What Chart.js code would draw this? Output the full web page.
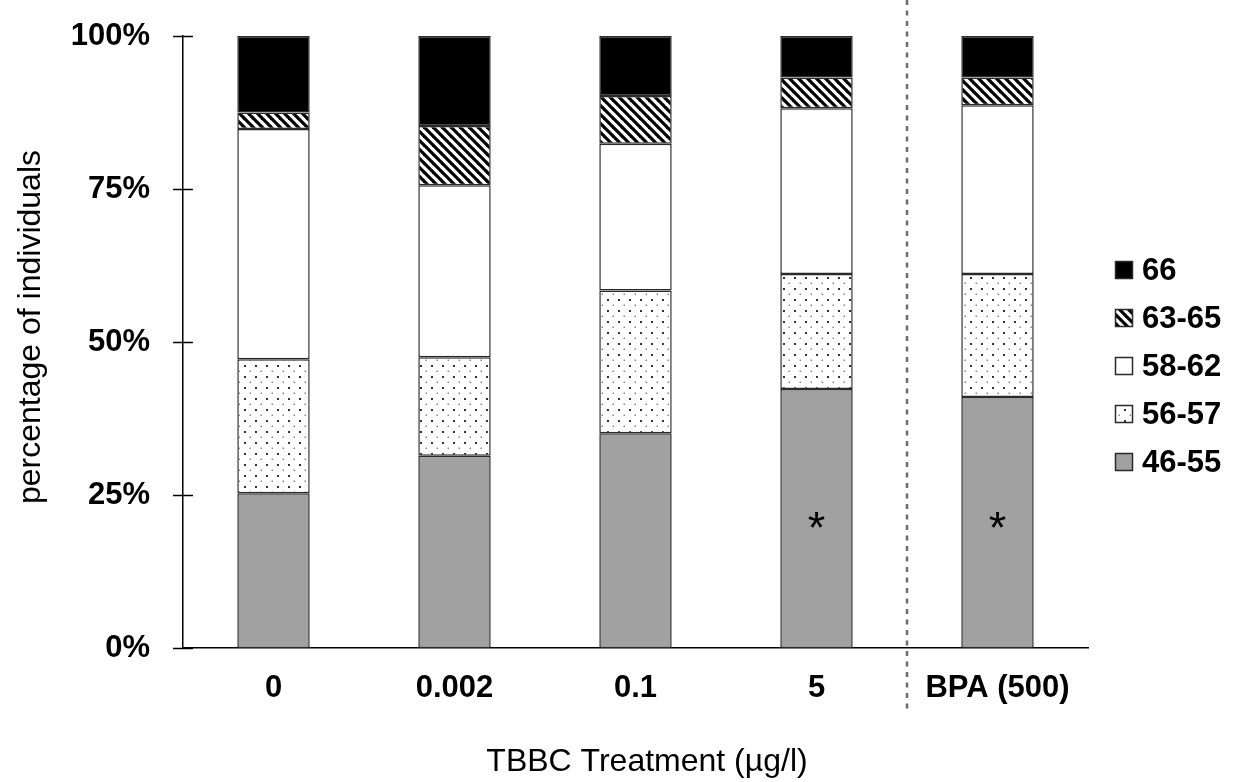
<!DOCTYPE html>
<html>
<head>
<meta charset="utf-8">
<script src="https://cdn.jsdelivr.net/npm/chart.js@4"></script>
<style>
  html, body { margin: 0; padding: 0; background: #fff; }
  #wrap { width: 1235px; height: 782px; position: relative; }
</style>
</head>
<body>
<div id="wrap"><canvas id="lengthChart"></canvas></div>
<script>
// treatment groups on the x axis
const categories = ['0', '0.002', '0.1', '5', 'BPA (500)'];
const yTicks = [0, 25, 50, 75, 100];

// share of individuals per size class (%), bottom to top
const class46to55 = [25.3, 31.4, 35.1, 42.3, 41.0];
const class56to57 = [21.9, 16.1, 23.3, 18.8, 20.1];
const class58to62 = [37.6, 28.1, 24.0, 27.1, 27.6];
const class63to65 = [2.7, 9.7, 7.8, 5.0, 4.5];
const class66 = [12.5, 14.7, 9.8, 6.8, 6.8];

// significance marks
const starCategories = ['5', 'BPA (500)'];
const starLevel = 20;

const FONT = '"Liberation Sans", Arial, Helvetica, sans-serif';

function makeHatch() {
    const c = document.createElement('canvas');
    c.width = 9; c.height = 9;
    const g = c.getContext('2d');
    g.fillStyle = '#fff';
    g.fillRect(0, 0, 9, 9);
    g.strokeStyle = '#000';
    g.lineWidth = 3.2;
    [-9, 0, 9].forEach((o) => {
        g.beginPath();
        g.moveTo(o - 1, -1);
        g.lineTo(o + 10, 10);
        g.stroke();
    });
    return g.createPattern(c, 'repeat');
}

function makeDots() {
    const c = document.createElement('canvas');
    c.width = 11; c.height = 11;
    const g = c.getContext('2d');
    g.fillStyle = '#fff';
    g.fillRect(0, 0, 11, 11);
    g.fillStyle = '#333';
    g.fillRect(2, 2, 2, 2);
    g.fillStyle = '#8a8a8a';
    g.fillRect(7.5, 7.5, 1.5, 1.5);
    return g.createPattern(c, 'repeat');
}

const edge = '#2a2a2a';

function series(label, data, fill) {
    return {
        label: label,
        data: data,
        backgroundColor: fill,
        borderColor: edge,
        borderWidth: 1.5,
        borderSkipped: false,
        barPercentage: 0.4,
        categoryPercentage: 1.0
    };
}

// extra drawing: crossing ticks, dashed separator, titles, legend, asterisks
const extras = {
    id: 'extras',
    afterDatasetsDraw(chart) {
        const ctx = chart.ctx;
        const x = chart.scales.x, y = chart.scales.y;
        ctx.save();
        ctx.fillStyle = '#000';
        ctx.font = '45px ' + FONT;
        ctx.textAlign = 'center';
        ctx.textBaseline = 'middle';
        starCategories.forEach((cat) => {
            const i = categories.indexOf(cat);
            ctx.fillText('*', x.getPixelForValue(i), y.getPixelForValue(starLevel) + 5);
        });
        ctx.restore();
    },
    afterDraw(chart) {
        const ctx = chart.ctx;
        const x = chart.scales.x, y = chart.scales.y;
        const area = chart.chartArea;
        ctx.save();

        // y ticks that cross the axis line
        ctx.strokeStyle = '#000';
        ctx.lineWidth = 1.5;
        yTicks.forEach((v) => {
            const py = Math.round(y.getPixelForValue(v)) + 0.5;
            ctx.beginPath();
            ctx.moveTo(area.left - 10, py);
            ctx.lineTo(area.left + 10, py);
            ctx.stroke();
        });

        // dashed separator between the TBBC groups and BPA
        const sx = (x.getPixelForValue(3) + x.getPixelForValue(4)) / 2;
        ctx.strokeStyle = '#6e6e6e';
        ctx.lineWidth = 2.5;
        ctx.setLineDash([5, 5.5]);
        ctx.beginPath();
        ctx.moveTo(sx, 0);
        ctx.lineTo(sx, 712);
        ctx.stroke();
        ctx.setLineDash([]);

        // axis titles
        ctx.fillStyle = '#000';
        ctx.font = '32px ' + FONT;
        ctx.textAlign = 'center';
        ctx.textBaseline = 'middle';
        ctx.fillText('TBBC Treatment (\u00b5g/l)', 647, 762);
        ctx.save();
        ctx.translate(31, 327);
        ctx.rotate(-Math.PI / 2);
        ctx.fillText('percentage of individuals', 0, 0);
        ctx.restore();

        // legend, top item is the top of the stack
        const sets = chart.data.datasets.slice().reverse();
        ctx.font = 'bold 31px ' + FONT;
        ctx.textAlign = 'left';
        sets.forEach((ds, i) => {
            const cy = 270 + i * 48;
            ctx.fillStyle = ds.backgroundColor;
            ctx.fillRect(1115, cy - 9, 18, 18);
            ctx.strokeStyle = edge;
            ctx.lineWidth = 1.5;
            ctx.strokeRect(1115.5, cy - 8.5, 17, 17);
            ctx.fillStyle = '#000';
            ctx.fillText(ds.label, 1142, cy + 1);
        });

        ctx.restore();
    }
};

new Chart(document.getElementById('lengthChart'), {
    type: 'bar',
    data: {
        labels: categories,
        datasets: [
            series('46-55', class46to55, '#a1a1a1'),
            series('56-57', class56to57, makeDots()),
            series('58-62', class58to62, '#ffffff'),
            series('63-65', class63to65, makeHatch()),
            series('66', class66, '#000000')
        ]
    },
    options: {
        responsive: true,
        maintainAspectRatio: false,
        animation: false,
        layout: { padding: { top: 36, right: 147, bottom: 0, left: 0 } },
        plugins: {
            legend: { display: false },
            tooltip: { enabled: false }
        },
        scales: {
            x: {
                stacked: true,
                grid: { display: false, drawTicks: false },
                border: { display: true, color: '#000', width: 1.5 },
                ticks: {
                    color: '#000',
                    padding: 22,
                    font: { family: FONT, size: 31, weight: 'bold' }
                },
                afterFit(scale) {
                    scale.height = 134;
                    scale.paddingLeft = 0;
                    scale.paddingRight = 0;
                }
            },
            y: {
                stacked: true,
                min: 0,
                max: 100,
                grid: { display: false, drawTicks: false },
                border: { display: true, color: '#000', width: 1.5 },
                ticks: {
                    stepSize: 25,
                    color: '#000',
                    padding: 33,
                    font: { family: FONT, size: 31, weight: 'bold' },
                    callback: (v) => v + '%'
                },
                afterFit(scale) {
                    scale.width = 183;
                    scale.paddingTop = 0;
                    scale.paddingBottom = 0;
                }
            }
        }
    },
    plugins: [extras]
});
</script>
</body>
</html>
